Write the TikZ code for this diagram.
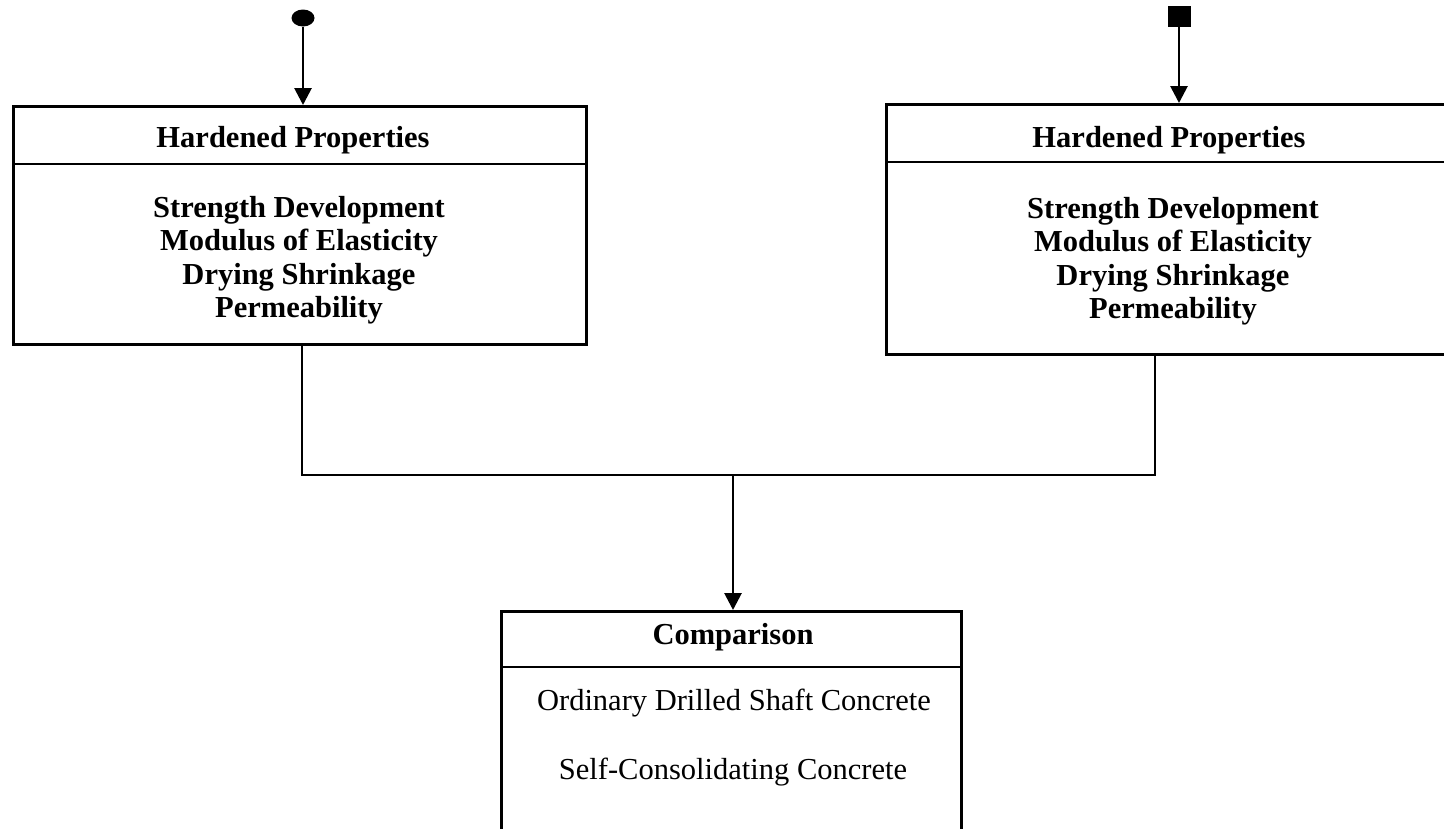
\documentclass[tikz,border=0pt]{standalone}
\usepackage{fontspec}
\setmainfont{Liberation Serif}
\usetikzlibrary{arrows.meta,shapes.geometric}
\begin{document}
\begin{tikzpicture}[x=1pt,y=-1pt,
  box/.style={draw, line width=2.5pt, rectangle, inner sep=0pt, anchor=north west},
  divider/.style={line width=2pt},
  conn/.style={line width=2pt},
  arr/.style={line width=2.8pt, -{Triangle[length=17pt,width=17pt]}},
  title/.style={font=\bfseries\fontsize{30.5}{33}\selectfont, inner sep=0pt},
  body/.style={font=\bfseries\fontsize{30.5}{33.5}\selectfont, inner sep=0pt, align=center},
  plain/.style={font=\fontsize{30.5}{33}\selectfont, inner sep=0pt}]
\path[use as bounding box] (0,0) rectangle (1444,828);
\clip (0,0) rectangle (1444,828);
\fill[white] (0,0) rectangle (1444,828);

% markers
\node[ellipse, fill=black, minimum width=23pt, minimum height=17pt, inner sep=0pt] (dot) at (303,18) {};
\node[rectangle, fill=black, minimum width=23pt, minimum height=21pt, inner sep=0pt] (sq) at (1179,16) {};

% boxes
\node[box, minimum width=573pt, minimum height=238pt] (L) at (12,105) {};
\node[box, minimum width=575pt, minimum height=250pt] (R) at (885,103) {};
\node[box, minimum width=460pt, minimum height=260pt] (C) at (500,610) {};

% dividers
\draw[divider] (L.west |- 0,164) -- (L.east |- 0,164);
\draw[divider] (R.west |- 0,162) -- (R.east |- 0,162);
\draw[divider] (C.west |- 0,667) -- (C.east |- 0,667);

% texts
\node[title] (Lt) at (293,140) {Hardened Properties};
\node[body] (Lb) at (299,260) {Strength Development\\Modulus of Elasticity\\Drying Shrinkage\\Permeability};
\node[title] (Rt) at (1169,140) {Hardened Properties};
\node[body] (Rb) at (1173,261) {Strength Development\\Modulus of Elasticity\\Drying Shrinkage\\Permeability};
\node[title] (Ct) at (733,637) {Comparison};
\node[plain] (Co) at (734,703) {Ordinary Drilled Shaft Concrete};
\node[plain] (Cs) at (733,772) {Self-Consolidating Concrete};

% connectors
\draw[arr] (dot.south) -- (dot.south |- L.north);
\draw[arr] (sq.south) -- (sq.south |- R.north);
\coordinate (lj) at (302,475);
\coordinate (rj) at (1155,475);
\coordinate (mj) at (733,475);
\draw[conn] (lj |- L.south) -- (lj) -- (rj) -- (rj |- R.south);
\draw[arr] (mj) -- (mj |- C.north);
\end{tikzpicture}
\end{document}
